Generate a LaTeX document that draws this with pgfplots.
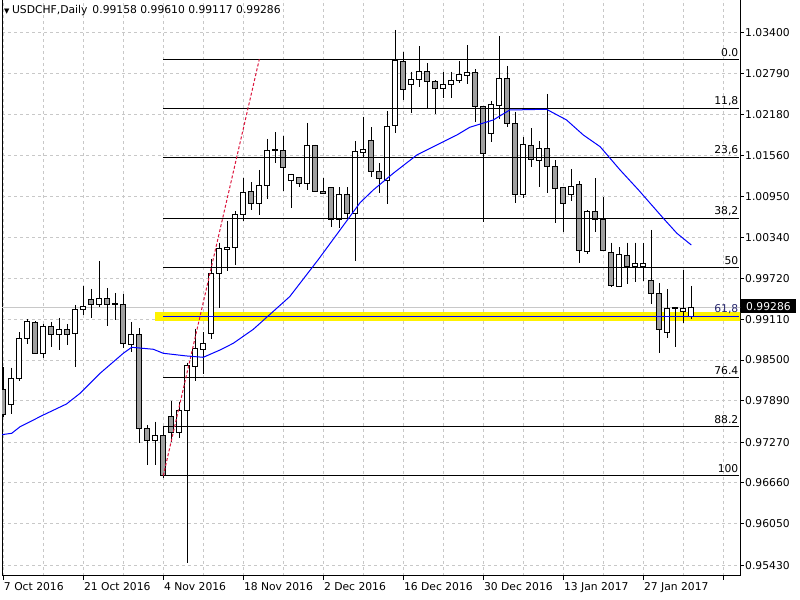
\documentclass[border=0pt]{standalone}
\usepackage{fontspec}
\setmainfont{DejaVu Sans}
\usepackage{pgfplots}
\usepackage{pgfplotstable}
\pgfplotsset{compat=1.18}
\definecolor{bearfill}{RGB}{160,160,160}
\definecolor{gridc}{RGB}{200,200,200}
\definecolor{fibred}{RGB}{220,20,60}
\definecolor{priceline}{RGB}{200,200,200}

\pgfplotstableread{
i o h l c
0 0.98052 0.98396 0.97652 0.97688
1 0.97838 0.98386 0.97688 0.98227
2 0.98227 0.98915 0.98191 0.98826
3 0.98826 0.99110 0.98736 0.99070
4 0.99065 0.99080 0.98586 0.98601
5 0.98601 0.99040 0.98536 0.99006
6 0.99006 0.99074 0.98700 0.98886
7 0.98886 0.99130 0.98651 0.98961
8 0.98961 0.99040 0.98726 0.98886
9 0.98900 0.99324 0.98400 0.99260
10 0.99260 0.99609 0.99175 0.99305
11 0.99410 0.99564 0.99130 0.99335
12 0.99335 0.99983 0.99290 0.99425
13 0.99425 0.99579 0.99010 0.99335
14 0.99345 0.99504 0.99104 0.99335
15 0.99335 0.99489 0.98676 0.98751
16 0.98736 0.99070 0.98625 0.98886
17 0.98886 0.98975 0.97263 0.97478
18 0.97478 0.97528 0.96929 0.97299
19 0.97299 0.97577 0.96929 0.97374
20 0.97374 0.97513 0.96739 0.96769
21 0.97658 0.97887 0.97278 0.97418
22 0.97418 0.97877 0.97338 0.97748
23 0.97748 0.98460 0.95466 0.98422
24 0.98406 0.98970 0.98191 0.98676
25 0.98661 0.98915 0.98296 0.98751
26 0.98890 1.00008 0.98811 0.99799
27 0.99799 1.00257 0.99275 1.00173
28 1.00158 1.00586 0.99829 1.00188
29 1.00188 1.00731 0.99928 1.00682
30 1.00682 1.01230 1.00586 1.01004
31 1.01026 1.01161 1.00742 1.00847
32 1.00847 1.01345 1.00667 1.01116
33 1.01116 1.01809 1.00907 1.01640
34 1.01640 1.01910 1.01445 1.01645
35 1.01640 1.01854 1.01035 1.01386
36 1.01191 1.01285 1.00781 1.01281
37 1.01236 1.01240 1.01095 1.01146
38 1.01140 1.02049 1.01046 1.01715
39 1.01715 1.01725 1.01020 1.01026
40 1.01026 1.01221 1.00981 1.00996
41 1.01086 1.01090 1.00496 1.00607
42 1.00607 1.01086 1.00472 1.00981
43 1.00981 1.01086 1.00622 1.00697
44 1.00697 1.01775 0.99982 1.01625
45 1.01610 1.02143 1.01520 1.01655
46 1.01790 1.01984 1.01245 1.01320
47 1.01320 1.01445 1.00996 1.01221
48 1.01195 1.02228 1.00832 1.01993
49 1.02014 1.03441 1.01895 1.02987
50 1.02972 1.03112 1.02393 1.02547
51 1.02628 1.02817 1.02203 1.02703
52 1.02703 1.03201 1.02592 1.02823
53 1.02823 1.02942 1.02254 1.02673
54 1.02673 1.02688 1.02179 1.02568
55 1.02568 1.02808 1.02418 1.02628
56 1.02628 1.02817 1.02427 1.02688
57 1.02688 1.02972 1.02643 1.02778
58 1.02763 1.03216 1.02628 1.02808
59 1.02808 1.02853 1.02059 1.02293
60 1.02299 1.02300 1.00562 1.01595
61 1.01895 1.02378 1.01760 1.02329
62 1.02314 1.03351 1.02104 1.02718
63 1.02718 1.02902 1.01993 1.02044
64 1.02044 1.02218 1.00856 1.00971
65 1.00971 1.01835 1.00931 1.01730
66 1.01715 1.01969 1.01395 1.01505
67 1.01490 1.01775 1.01095 1.01670
68 1.01670 1.02483 1.01005 1.01400
69 1.01400 1.01490 1.00547 1.01071
70 1.01086 1.01095 1.00413 1.00847
71 1.00981 1.01356 1.00886 1.01101
72 1.01131 1.01176 0.99948 1.00143
73 1.00128 1.00742 1.00083 1.00727
74 1.00727 1.01221 1.00413 1.00607
75 1.00607 1.00936 1.00128 1.00143
76 1.00113 1.00257 0.99598 0.99609
77 0.99598 1.00188 0.99589 1.00083
78 1.00068 1.00257 0.99639 0.99897
79 0.99897 1.00257 0.99664 0.99948
80 0.99897 1.00257 0.99679 0.99948
81 0.99698 1.00447 0.99339 0.99499
82 0.99499 0.99649 0.98601 0.98950
83 0.98915 0.99559 0.98826 0.99275
84 0.99290 0.99295 0.98691 0.99275
85 0.99234 0.99848 0.99050 0.99264
86 0.99158 0.99610 0.99117 0.99286
}\ohlc

\pgfplotstableread{
i ma
-0.3 0.97380
0 0.97386
1.05 0.97403
2.1 0.97502
5 0.97677
7.9 0.97842
9.6 0.98002
12.1 0.98302
15 0.98601
16.05 0.98691
18.75 0.98661
20 0.98601
22.9 0.98561
25 0.98541
27.1 0.98651
28.75 0.98751
31.25 0.98960
35.8 0.99449
39.4 1.00008
44.6 1.00856
46.25 1.01046
48.75 1.01296
51.7 1.01570
53.75 1.01694
56.7 1.01869
58.3 1.01984
61.25 1.02094
63.3 1.02243
67.9 1.02254
70.4 1.02094
72.5 1.01869
74.6 1.01694
77.1 1.01345
79.4 1.01046
82.5 1.00622
84.2 1.00397
86 1.00222
}\matable

\begin{document}
\fontsize{10.8}{13}\selectfont
\begin{tikzpicture}[x=1bp,y=1bp]
\path[use as bounding box] (0,0) rectangle (800,600);
\begin{axis}[
  at={(2bp,24bp)}, anchor=south west,
  scale only axis, width=738bp, height=576bp,
  xmin=-0.1625, xmax=92.0875, ymin=0.95267, ymax=1.03890,
  axis line style={black, line width=1bp},
  tick style={black, line width=1bp},
  tick align=outside,
  major tick length=4bp, minor tick length=0pt,
  xtick pos=bottom, ytick pos=right, yticklabel pos=right,
  xtick={0,10,...,90},
  minor xtick={5,15,...,85},
  xticklabels={7 Oct 2016, 21 Oct 2016, 4 Nov 2016, 18 Nov 2016, 2 Dec 2016, 16 Dec 2016, 30 Dec 2016, 13 Jan 2017, 27 Jan 2017, {}},
  ytick={0.9543,0.9605,0.9666,0.9727,0.9789,0.9850,0.9911,0.9972,1.0034,1.0095,1.0156,1.0218,1.0279,1.0340},
  yticklabels={0.95430,0.96050,0.96660,0.97270,0.97890,0.98500,0.99110,0.99720,1.00340,1.00950,1.01560,1.02180,1.02790,1.03400},
  xticklabel style={anchor=north west, inner sep=0pt, xshift=0.5bp, yshift=-2bp},
  yticklabel style={anchor=west, inner sep=0pt, xshift=1bp},
  ticklabel style={font=\fontsize{10.8}{13}\selectfont},
  xmajorgrids, xminorgrids, ymajorgrids,
  major grid style={gridc, dash pattern=on 3bp off 3bp, line width=1bp},
  minor grid style={gridc, dash pattern=on 3bp off 3bp, line width=1bp},
  clip=true,
]
% current price line
\addplot[priceline, line width=1bp] coordinates {(-0.5,0.99286) (93,0.99286)};
% yellow rectangle
\addplot[fill=yellow, draw=none] coordinates {(18.96,0.99080) (92.2,0.99080) (92.2,0.99219) (18.96,0.99219)} --cycle;
% candles
\pgfplotsinvokeforeach{0,...,86}{
  \pgfplotstablegetelem{#1}{o}\of\ohlc \let\O\pgfplotsretval
  \pgfplotstablegetelem{#1}{h}\of\ohlc \let\H\pgfplotsretval
  \pgfplotstablegetelem{#1}{l}\of\ohlc \let\L\pgfplotsretval
  \pgfplotstablegetelem{#1}{c}\of\ohlc \let\C\pgfplotsretval
  \pgfmathsetmacro\XL{#1-0.3125}
  \pgfmathsetmacro\XR{#1+0.3125}
  \addplot[black, line width=1bp] coordinates {(#1,\H) (#1,\L)};
  \ifdim\C pt<\O pt
    \addplot[draw=black, fill=bearfill, line width=1bp] coordinates {(\XL,\O) (\XR,\O) (\XR,\C) (\XL,\C)} --cycle;
  \else
    \addplot[draw=black, fill=white, line width=1bp] coordinates {(\XL,\O) (\XR,\O) (\XR,\C) (\XL,\C)} --cycle;
  \fi
}
% fibonacci levels
\addplot[black, line width=1bp] coordinates {(20,1.03002) (92,1.03002)};
\addplot[black, line width=1bp] coordinates {(20,1.02269) (92,1.02269)};
\addplot[black, line width=1bp] coordinates {(20,1.01535) (92,1.01535)};
\addplot[black, line width=1bp] coordinates {(20,1.00622) (92,1.00622)};
\addplot[black, line width=1bp] coordinates {(20,0.99888) (92,0.99888)};
\addplot[blue, line width=1bp] coordinates {(20,0.99155) (92,0.99155)};
\addplot[black, line width=1bp] coordinates {(20,0.98242) (92,0.98242)};
\addplot[black, line width=1bp] coordinates {(20,0.97508) (92,0.97508)};
\addplot[black, line width=1bp] coordinates {(20,0.96769) (92,0.96769)};
% fib trend line
\addplot[fibred, line width=1bp, dash pattern=on 3bp off 2bp] coordinates {(20,0.96769) (32,1.03002)};
% moving average
\addplot[blue, line width=1bp] table[x=i, y=ma] {\matable};
% fib labels
\begin{scope}[every node/.style={anchor=south east, inner sep=0pt, yshift=2.5bp, font=\fontsize{10.8}{13}\selectfont}]
\node at (axis cs:91.9,1.03002) {0.0};
\node at (axis cs:91.9,1.02269) {11,8};
\node at (axis cs:91.9,1.01535) {23,6};
\node at (axis cs:91.9,1.00622) {38,2};
\node at (axis cs:91.9,0.99888) {50};
\node[text={rgb,255:red,40;green,40;blue,110}] at (axis cs:91.9,0.99155) {61,8};
\node at (axis cs:91.9,0.98242) {76.4};
\node at (axis cs:91.9,0.97508) {88.2};
\node at (axis cs:91.9,0.96769) {100};
\end{scope}
\end{axis}
% header and price tag
\node[anchor=base west, inner sep=0pt] at (4,586.5) {{\fontsize{7}{8}\selectfont ▼}\hspace{2.5bp}USDCHF,Daily\hspace{5bp}0.99158 0.99610 0.99117 0.99286};
\node[anchor=west, fill=black, text=white, inner xsep=5bp, inner ysep=2.5bp, minimum height=14bp] at (741,600-306.5) {0.99286};
\end{tikzpicture}
\end{document}
